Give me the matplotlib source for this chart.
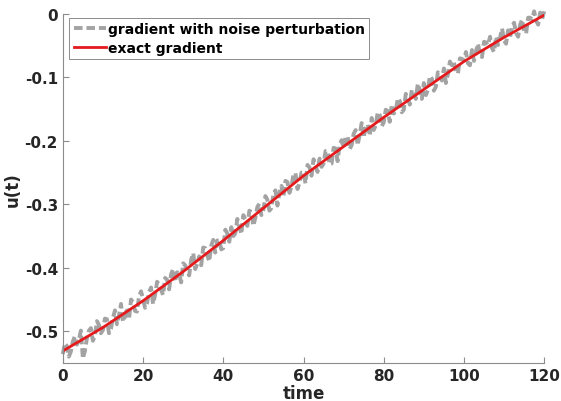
import numpy as np
import matplotlib
matplotlib.use("Agg")
import matplotlib.pyplot as plt

# exact gradient read at every 10 time units
t_exact = [0, 10, 20, 30, 40, 50, 60, 70, 80, 90, 100, 110, 120]
u_exact = [-0.531, -0.494, -0.452, -0.406, -0.357, -0.306, -0.255,
           -0.209, -0.163, -0.119, -0.075, -0.037, -0.002]

# noisy gradient at whole time units (0..120)
u_noisy_whole = [
    -0.536, -0.523, -0.532, -0.508, -0.513, -0.543, -0.511, -0.495, -0.507, -0.490,
    -0.498, -0.481, -0.496, -0.467, -0.475, -0.485, -0.463, -0.450, -0.468, -0.445,
    -0.449, -0.456, -0.431, -0.443, -0.426, -0.443, -0.419, -0.410, -0.422, -0.409,
    -0.393, -0.407, -0.387, -0.402, -0.382, -0.368, -0.380, -0.365, -0.376, -0.357,
    -0.369, -0.346, -0.336, -0.346, -0.335, -0.317, -0.334, -0.312, -0.321, -0.299,
    -0.309, -0.293, -0.306, -0.278, -0.282, -0.288, -0.265, -0.272, -0.251, -0.266,
    -0.250, -0.238, -0.255, -0.238, -0.228, -0.236, -0.216, -0.236, -0.212, -0.206,
    -0.211, -0.194, -0.207, -0.183, -0.190, -0.195, -0.174, -0.164, -0.176, -0.159,
    -0.171, -0.153, -0.143, -0.153, -0.137, -0.151, -0.132, -0.120, -0.134, -0.120,
    -0.109, -0.120, -0.102, -0.115, -0.097, -0.086, -0.095, -0.081, -0.092, -0.070,
    -0.073, -0.078, -0.057, -0.059, -0.064, -0.044, -0.049, -0.054, -0.036, -0.037,
    -0.042, -0.026, -0.019, -0.030, -0.017, -0.028, -0.006, -0.009, -0.011, 0.002,
    0.004,
]
# noisy gradient at half time units (0.5..119.5)
u_noisy_half = [
    -0.519, -0.540, -0.516, -0.521, -0.499, -0.531, -0.499, -0.515, -0.484, -0.503,
    -0.480, -0.503, -0.479, -0.489, -0.457, -0.477, -0.481, -0.454, -0.469, -0.437,
    -0.463, -0.438, -0.457, -0.422, -0.435, -0.416, -0.434, -0.402, -0.407, -0.423,
    -0.396, -0.412, -0.377, -0.394, -0.396, -0.369, -0.390, -0.356, -0.357, -0.371,
    -0.340, -0.359, -0.350, -0.323, -0.347, -0.324, -0.310, -0.334, -0.304, -0.317,
    -0.287, -0.310, -0.284, -0.302, -0.271, -0.263, -0.282, -0.252, -0.276, -0.250,
    -0.267, -0.242, -0.229, -0.249, -0.241, -0.216, -0.237, -0.211, -0.232, -0.199,
    -0.193, -0.213, -0.189, -0.207, -0.172, -0.179, -0.192, -0.183, -0.155, -0.177,
    -0.151, -0.170, -0.157, -0.133, -0.155, -0.126, -0.143, -0.122, -0.110, -0.134,
    -0.128, -0.098, -0.121, -0.092, -0.105, -0.109, -0.075, -0.076, -0.094, -0.071,
    -0.060, -0.081, -0.074, -0.047, -0.068, -0.045, -0.036, -0.060, -0.049, -0.023,
    -0.047, -0.037, -0.014, -0.036, -0.009, -0.031, -0.006, 0.004, -0.017, -0.008,
]

t_noisy = np.arange(0, 120.5, 0.5)
u_noisy = np.empty(len(t_noisy))
u_noisy[0::2] = u_noisy_whole
u_noisy[1::2] = u_noisy_half

fig = plt.figure(figsize=(5.61, 4.02), dpi=100)
ax = fig.add_axes([0.112, 0.0945, 0.858, 0.8685])

ax.plot(t_noisy, u_noisy, color="#a3a3a3", lw=2.8, linestyle=(0, (2.2, 1.0)),
        label="gradient with noise perturbation", clip_on=False)
ax.plot(t_exact, u_exact, color="#e41a1c", lw=2,
        label="exact gradient")

ax.set_xlim(0, 120)
ax.set_ylim(-0.55, 0)
ax.set_xticks([0, 20, 40, 60, 80, 100, 120])
ax.set_yticks([-0.5, -0.4, -0.3, -0.2, -0.1, 0])
ax.set_yticklabels(["-0.5", "-0.4", "-0.3", "-0.2", "-0.1", "0"])

for s in ["top", "right"]:
    ax.spines[s].set_visible(False)
for s in ["left", "bottom"]:
    ax.spines[s].set_color("#8c8c8c")
    ax.spines[s].set_linewidth(0.8)

ax.tick_params(direction="in", length=4, width=0.8, color="#8c8c8c",
               labelsize=11, labelcolor="#262626")
for lab in ax.get_xticklabels() + ax.get_yticklabels():
    lab.set_fontweight("bold")

ax.set_xlabel("time", fontsize=12, fontweight="bold", color="#262626", labelpad=1)
ax.set_ylabel("u(t)", fontsize=12, fontweight="bold", color="#262626", labelpad=2)

leg = ax.legend(loc="upper left", prop={"weight": "bold", "size": 10},
                handlelength=2.3, handletextpad=0.15, borderpad=0.3,
                labelspacing=0.35, borderaxespad=0.3, fancybox=False,
                framealpha=1, edgecolor="#8c8c8c", bbox_to_anchor=(0.005, 1.0))
leg.get_frame().set_linewidth(0.7)

fig.savefig("out.png", dpi=100)
